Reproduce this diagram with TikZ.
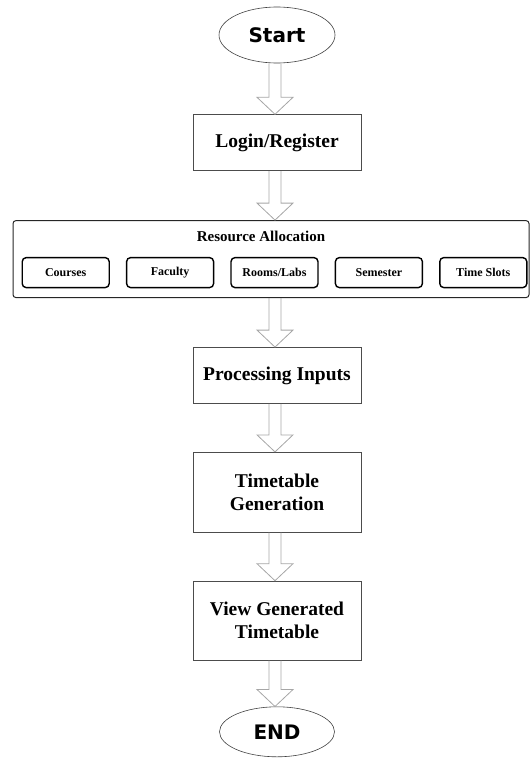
\documentclass[tikz,border=0pt]{standalone}
\usepackage{fontspec}
\setmainfont{Liberation Serif}
\newfontfamily\termfont{DejaVu Sans}
\usepackage{tikz}
\usetikzlibrary{positioning, shapes.geometric, calc}
% hollow block arrow between two named nodes
\newcommand{\hollowarrow}[2]{%
  \draw[hollow] let \p1=(#1.south -| axis), \p2=(#2.north -| axis) in
    (\x1-6pt,\y1) -- (\x1-6pt,\y2+17pt) -- (\x1-18pt,\y2+17pt) -- (\x2,\y2)
    -- (\x1+18pt,\y2+17pt) -- (\x1+6pt,\y2+17pt) -- (\x1+6pt,\y1);}

\begin{document}
\begin{tikzpicture}[
        x=1pt, y=-1pt,
        node distance=48pt,
        terminal/.style={ellipse, draw=black!75, line width=0.6pt, minimum width=116pt, minimum height=56pt, inner sep=0pt, font=\termfont\bfseries\fontsize{20}{24}\selectfont},
        block/.style={rectangle, draw=black!70, line width=0.8pt, minimum width=168pt, minimum height=56pt, align=center, font=\bfseries\fontsize{19.5}{23}\selectfont},
        group/.style={rectangle, rounded corners=3pt, draw=black!85, line width=1pt, minimum width=516pt, minimum height=77pt},
        resource/.style={rectangle, rounded corners=4pt, draw=black, line width=1.4pt, minimum width=87pt, minimum height=30pt, inner sep=0pt, font=\bfseries\fontsize{12}{14}\selectfont},
        hollow/.style={draw=black!35, line width=0.8pt, line join=miter}
    ]
    \useasboundingbox (0,0) rectangle (530,768);
    \coordinate (axis) at (275,0);

    % Nodes
    \node (start) [terminal] at (277,35) {Start};
    \node (login) [block, below=51pt of start] {Login/Register};
    \node (alloc) [group, below=49pt of login, xshift=-6pt] {};
    \node (alloctitle) [below=11pt of alloc.north, xshift=-10pt, inner sep=0pt, font=\bfseries\fontsize{15}{18}\selectfont] {Resource Allocation};
    \node (courses) [resource, anchor=west] at ($(alloc.west)+(9,13.5)$) {Courses};
    \node (faculty) [resource, right=16pt of courses] {Faculty};
    \node (rooms) [resource, right=16pt of faculty] {Rooms/Labs};
    \node (semester) [resource, right=16pt of rooms] {Semester};
    \node (slots) [resource, right=16pt of semester] {Time Slots};
    \node (inputs) [block, below=49pt of alloc, xshift=6pt] {Processing Inputs};
    \node (generate) [block, minimum height=80pt, below=of inputs] {Timetable\\Generation};
    \node (view) [block, minimum height=79pt, below=of generate] {View Generated\\Timetable};
    \node (finish) [terminal, minimum width=115pt, minimum height=50pt, below=46pt of view] {END};

    % Arrows
    \hollowarrow{start}{login}
    \hollowarrow{login}{alloc}
    \hollowarrow{alloc}{inputs}
    \hollowarrow{inputs}{generate}
    \hollowarrow{generate}{view}
    \hollowarrow{view}{finish}

\end{tikzpicture}
\end{document}
